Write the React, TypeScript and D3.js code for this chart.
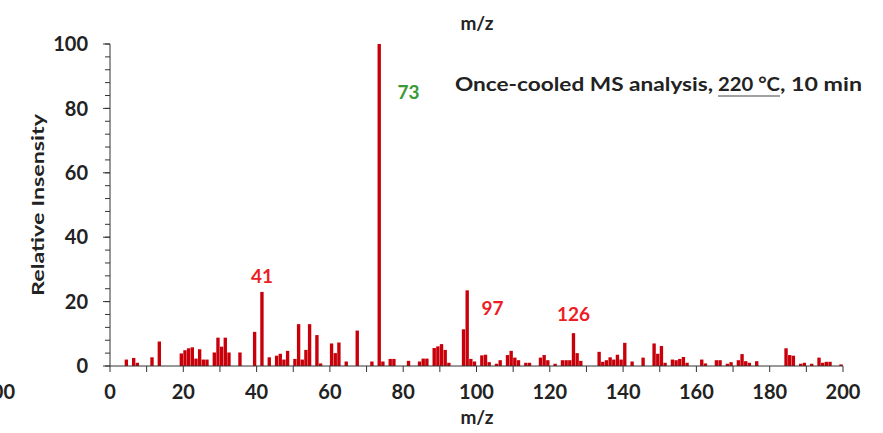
import * as d3 from 'd3';
import React from 'react';

// m/z values and their relative intensities
const mzValues = [
  4, 6, 7, 11, 13, 19, 20, 21, 22, 23, 24, 25, 26, 28, 29, 30, 31, 32, 35, 39,
  41, 43, 45, 46, 47, 48, 50, 51, 52, 53, 54, 56, 57, 60, 61, 62, 64, 67, 71, 73,
  74, 76, 77, 81, 84, 85, 86, 88, 89, 90, 91, 92, 96, 97, 98, 99, 101, 102, 103, 105,
  106, 108, 109, 110, 111, 113, 114, 117, 118, 119, 121, 123, 124, 125, 126, 127, 128, 133, 134, 135,
  136, 137, 138, 139, 140, 142, 145, 148, 149, 150, 151, 153, 154, 155, 156, 157, 161, 162, 165, 166,
  168, 169, 171, 172, 173, 174, 176, 184, 185, 186, 188, 189, 191, 193, 194, 195, 196, 199,
];
const intensities = [
  2, 2.5, 1, 2.7, 7.6, 3.9, 4.9, 5.5, 5.8, 2.3, 5.2, 2, 2, 4.2, 8.8, 6, 8.8, 4.2, 4.2, 10.6,
  23, 2.7, 3.2, 3.8, 2, 4.7, 2.2, 13, 2, 5, 13, 9.6, 0.8, 7, 4, 7.3, 1.4, 11, 1.4, 100,
  1.4, 2.2, 2.2, 1.6, 1.4, 2.3, 2.3, 5.6, 6.1, 6.8, 5, 1, 11.4, 23.5, 2.2, 1.4, 3.3, 3.5, 1.2, 0.7,
  1.8, 3.4, 4.7, 2.6, 1.8, 1, 1, 2.6, 3.4, 1.8, 0.7, 1.8, 1.8, 1.8, 10.2, 4, 1.6, 4.4, 1.3, 1.8,
  2.7, 2, 3.5, 2, 7.2, 1.4, 2.6, 7, 3.8, 6.2, 1, 2, 1.8, 2.2, 2.8, 1, 2, 0.8, 1.8, 1.8,
  0.7, 1.2, 1.8, 3.7, 1.5, 1, 1.5, 5.5, 3.4, 3.2, 0.7, 1, 0.7, 2.6, 1, 1.3, 1.3, 0.5,
];

const xTickLabels = [0, 20, 40, 60, 80, 100, 120, 140, 160, 180, 200];
const xMinorTicks = d3.range(0, 201, 10);
const yTickLabels = [0, 20, 40, 60, 80, 100];
const yMinorTicks = d3.range(0, 101, 4);

const peakLabels = [
  { mz: 41, text: '41', color: '#ee1c25', dx: 1.8, dy: -9, anchor: 'middle' },
  { mz: 73, text: '73', color: '#3a9a35', dx: 20, dy: 0, anchor: 'start', at: 85 },
  { mz: 97, text: '97', color: '#ee1c25', dx: 16, dy: 0, anchor: 'start', at: 18 },
  { mz: 126, text: '126', color: '#ee1c25', dx: 1.8, dy: -12, anchor: 'middle' },
];

const BAR = '#c8000a';
const FONT = 'Lato, "Open Sans", sans-serif';

export default function App() {
  const width = 883, height = 433;
  const margin = { top: 44, left: 110, right: 40, bottom: 67 };

  const x = d3.scaleLinear().domain([0, 200]).range([margin.left, width - margin.right]);
  const y = d3.scaleLinear().domain([0, 100]).range([height - margin.bottom, margin.top]);

  const data = mzValues.map((mz, i) => ({ mz, v: intensities[i] }));
  const bw = x(1) - x(0);

  return (
    <div style={{ position: 'fixed', left: 0, top: 0 }}>
      <svg width={width} height={height} style={{ display: 'block', background: '#fff' }} fontFamily={FONT}>
        {/* stray tick label from neighbouring panel */}
        <text x={15} y={399} textAnchor="end" fontSize={20} fontWeight={700} fill="#222">200</text>

        {/* bars */}
        <g fill={BAR}>
          {data.map(d => (
            <rect key={d.mz} x={x(d.mz)} y={y(d.v)} width={bw - 0.3} height={y(0) - y(d.v)} />
          ))}
        </g>

        {/* y axis */}
        <g stroke="#333" strokeWidth={1}>
          <line x1={x(0)} x2={x(0)} y1={y(0)} y2={y(100)} />
          {yMinorTicks.map(t => (
            <line key={t} x1={x(0) - 5} x2={x(0)} y1={y(t)} y2={y(t)} />
          ))}
          {yTickLabels.map(t => (
            <line key={t} x1={x(0) - 7} x2={x(0)} y1={y(t)} y2={y(t)} />
          ))}
        </g>
        {yTickLabels.map(t => (
          <text key={t} x={88} y={y(t)} dy="0.36em" textAnchor="end" fontSize={20} fontWeight={700} fill="#222">{t}</text>
        ))}

        {/* x axis */}
        <g stroke="#333" strokeWidth={1}>
          <line x1={x(0)} x2={x(200)} y1={y(0)} y2={y(0)} />
          {xMinorTicks.map(t => (
            <line key={t} x1={x(t)} x2={x(t)} y1={y(0)} y2={y(0) + 6} />
          ))}
        </g>
        {xTickLabels.map(t => (
          <text key={t} x={x(t)} y={399} textAnchor="middle" fontSize={20} fontWeight={700} fill="#222">{t}</text>
        ))}

        {/* axis titles */}
        <text x={477} y={424} textAnchor="middle" fontSize={19} fontWeight={700} fill="#222">m/z</text>
        <text x={477} y={30} textAnchor="middle" fontSize={19} fontWeight={700} fill="#222">m/z</text>
        <text transform={`translate(44,205) rotate(-90)`} textAnchor="middle" fontSize={17} fontWeight={700} fill="#222"
          textLength={182} lengthAdjust="spacingAndGlyphs">Relative Insensity</text>

        {/* peak labels */}
        {peakLabels.map(p => {
          const v = p.at ?? intensities[mzValues.indexOf(p.mz)];
          return (
            <text key={p.mz} x={x(p.mz) + p.dx} y={y(v) + p.dy} dy={p.at ? '0.36em' : 0} textAnchor={p.anchor}
              fontSize={19} fontWeight={700} fill={p.color}>{p.text}</text>
          );
        })}

        {/* annotation */}
        <g fontSize={18} fontWeight={700} fill="#222">
          <text x={455} y={91} textLength={258} lengthAdjust="spacingAndGlyphs">Once-cooled MS analysis,</text>
          <text x={718} y={91} textLength={62} lengthAdjust="spacingAndGlyphs">220 °C</text>
          <line x1={718} x2={780} y1={96} y2={96} stroke="#444" strokeWidth={1.2} />
          <text x={780} y={91} textLength={82} lengthAdjust="spacingAndGlyphs">, 10 min</text>
        </g>
      </svg>
    </div>
  );
}
